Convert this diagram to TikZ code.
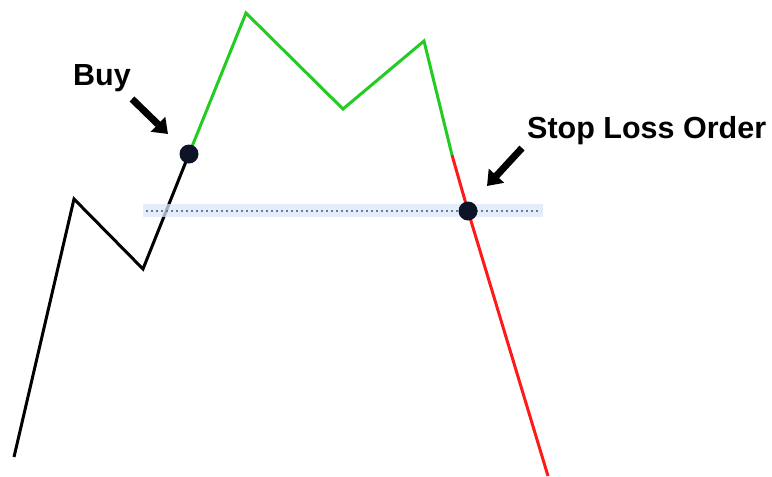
\documentclass[tikz,border=0pt]{standalone}
\usepackage{fontspec}
\setmainfont{Liberation Sans}
\usetikzlibrary{arrows.meta}
\definecolor{upgreen}{HTML}{22CC22}
\definecolor{downred}{HTML}{FF1A1A}
\definecolor{bandblue}{HTML}{DCE5F8}
\definecolor{dotblue}{HTML}{6A78A8}
\definecolor{dotfill}{HTML}{0E1428}
\tikzset{
  price/.style={line width=3pt, line join=miter},
  marker/.style={circle, fill=dotfill, minimum size=19pt, inner sep=0pt},
  lbl/.style={anchor=base west, inner sep=0pt, font=\fontsize{30.5}{36}\selectfont\bfseries},
  pointer/.style={line width=7pt, -{Triangle[width=20pt,length=14pt]}}
}
\begin{document}
\begin{tikzpicture}[x=1pt,y=-1pt]
\useasboundingbox (0,0) rectangle (772,477);
\coordinate (p0) at (14,457);
\coordinate (p1) at (74,199);
\coordinate (p2) at (143,269);
\coordinate (buy) at (189,154);
\coordinate (p4) at (246,13);
\coordinate (p5) at (343,109);
\coordinate (p6) at (424,41);
\coordinate (p7) at (452,155);
\coordinate (stop) at (468,211);
\coordinate (p9) at (548,476);
% price path
\draw[price, black] (p0) -- (p1) -- (p2) -- (buy);
\draw[price, upgreen] (buy) -- (p4) -- (p5) -- (p6) -- (p7);
\draw[price, downred] (p7) -- (stop) -- (p9);
% stop level band
\fill[bandblue, opacity=0.75] (143,204) rectangle (543,217);
\coordinate (bl) at (146,211);
\coordinate (br) at (541,211);
\draw[dotblue, line width=1.6pt, dash pattern=on 2pt off 3pt] (bl) -- (br);
% markers
\node[marker] (buydot) at (buy) {};
\node[marker] (stopdot) at (stop) {};
% labels
\node[lbl] (buylbl) at (73,85) {Buy};
\node[lbl] (stoplbl) at (527,138) {Stop Loss Order};
\coordinate (a1s) at (132,99);
\coordinate (a1e) at (168,134);
\coordinate (a2s) at (522,148);
\coordinate (a2e) at (487,186);
\draw[pointer] (a1s) -- (a1e);
\draw[pointer] (a2s) -- (a2e);
\end{tikzpicture}
\end{document}
